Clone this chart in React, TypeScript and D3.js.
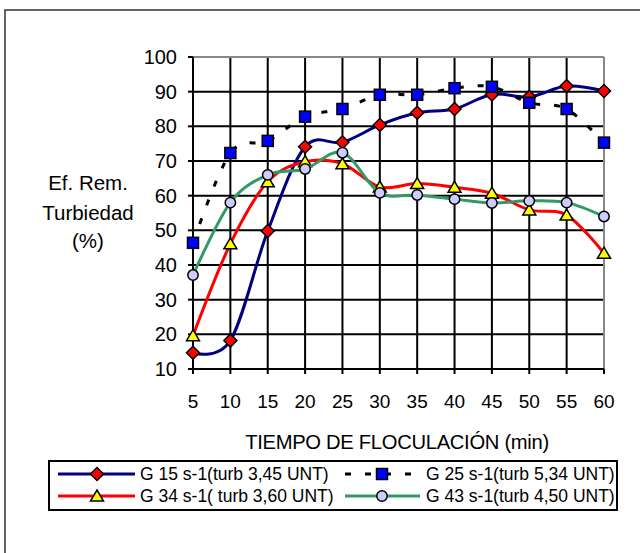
import React from "react";
import * as d3 from "d3";

// Flocculation time (min)
const minutes = [5, 10, 15, 20, 25, 30, 35, 40, 45, 50, 55, 60];

// Turbidity removal efficiency (%) per velocity gradient
const g15 = [14.7, 18.2, 49.8, 74.1, 75.4, 80.4, 83.9, 85.0, 89.2, 88.5, 91.6, 90.2];
const g25 = [46.4, 72.3, 75.8, 82.8, 85.0, 89.1, 89.1, 91.0, 91.4, 86.8, 85.0, 75.3];
const g34 = [19.6, 46.1, 64.0, 69.8, 69.2, 62.5, 63.5, 62.4, 60.7, 55.9, 54.4, 43.4];
const g43 = [37.1, 58.0, 66.0, 67.7, 72.4, 60.8, 60.2, 59.0, 57.9, 58.5, 58.0, 54.0];

const yTicks = [10, 20, 30, 40, 50, 60, 70, 80, 90, 100];

const labels = [
  "G 15 s-1(turb 3,45 UNT)",
  "G 25 s-1(turb 5,34 UNT)",
  "G 34 s-1( turb 3,60 UNT)",
  "G 43 s-1(turb 4,50 UNT)",
];

const FONT = "'Liberation Sans', Arial, sans-serif";

type MarkerKind = "diamond" | "square" | "triangle" | "circle";

interface SeriesDef {
  values: number[];
  label: string;
  line: string;
  dash?: string;
  marker: MarkerKind;
  fill: string;
}

const series: SeriesDef[] = [
  { values: g15, label: labels[0], line: "#000080", marker: "diamond", fill: "#FF0000" },
  { values: g25, label: labels[1], line: "#000000", dash: "6 14", marker: "square", fill: "#0000FF" },
  { values: g34, label: labels[2], line: "#FF0000", marker: "triangle", fill: "#FFFF00" },
  { values: g43, label: labels[3], line: "#339966", marker: "circle", fill: "#CCCCFF" },
];

function Marker({ kind, x, y, fill }: { kind: MarkerKind; x: number; y: number; fill: string }) {
  const common = { fill, stroke: "#000", strokeWidth: 1.5 };
  if (kind === "diamond") {
    const r = 6.5;
    return <path d={`M${x},${y - r}L${x + r},${y}L${x},${y + r}L${x - r},${y}Z`} {...common} />;
  }
  if (kind === "square") {
    const r = 5.5;
    return <rect x={x - r} y={y - r} width={2 * r} height={2 * r} {...common} />;
  }
  if (kind === "triangle") {
    return <path d={`M${x},${y - 6}L${x + 6.5},${y + 5}L${x - 6.5},${y + 5}Z`} {...common} />;
  }
  return <circle cx={x} cy={y} r={5.2} {...common} />;
}

export default function App() {
  const x = d3.scaleLinear().domain([5, 60]).range([193, 604]);
  const y = d3.scaleLinear().domain([10, 100]).range([369, 57]);
  const [x0, x1] = x.range();
  const [yb, yt] = y.range();

  const lineGen = d3
    .line<number>()
    .x((_, i) => x(minutes[i]))
    .y((d) => y(d))
    .curve(d3.curveCardinal.tension(0));

  const legendRows = [
    { y: 474, items: [series[0], series[1]] },
    { y: 496, items: [series[2], series[3]] },
  ];
  const legendCols = [
    { l0: 58, l1: 135, mx: 97, tx: 140 },
    { l0: 345, l1: 420, mx: 382, tx: 426 },
  ];

  return (
    <svg
      width={640}
      height={553}
      style={{ position: "absolute", left: 0, top: 0, background: "#fff" }}
      fontFamily={FONT}
    >
      {/* outer chart frame */}
      <rect x={5} y={10} width={700} height={600} fill="#fff" stroke="#333" strokeWidth={1.5} />

      {/* horizontal gridlines */}
      {yTicks
        .filter((t) => t !== 10 && t !== 100)
        .map((t) => (
          <line key={`h${t}`} x1={x0} x2={x1} y1={y(t)} y2={y(t)} stroke="#000" strokeWidth={2} />
        ))}
      {/* vertical gridlines with tick extensions */}
      {minutes.map((m) => (
        <line key={`v${m}`} x1={x(m)} x2={x(m)} y1={yt} y2={yb + 5} stroke="#000" strokeWidth={2} />
      ))}
      {/* plot border top / right */}
      <line x1={x0} x2={x1} y1={yt} y2={yt} stroke="#888" strokeWidth={2} />
      <line x1={x1} x2={x1} y1={yt} y2={yb} stroke="#888" strokeWidth={2} />
      {/* axes */}
      <line x1={x0} x2={x0} y1={yt} y2={yb} stroke="#000" strokeWidth={2} />
      <line x1={x0} x2={x1} y1={yb} y2={yb} stroke="#000" strokeWidth={2} />
      {yTicks.map((t) => (
        <line key={`yt${t}`} x1={x0 - 5} x2={x0} y1={y(t)} y2={y(t)} stroke="#000" strokeWidth={2} />
      ))}

      {/* y tick labels */}
      {yTicks.map((t) => (
        <text key={`yl${t}`} x={177} y={y(t)} dy="0.35em" textAnchor="end" fontSize={20}>
          {t}
        </text>
      ))}
      {/* x tick labels */}
      {minutes.map((m) => (
        <text key={`xl${m}`} x={x(m)} y={408} textAnchor="middle" fontSize={19}>
          {m}
        </text>
      ))}

      {/* axis titles */}
      <text x={397} y={449} textAnchor="middle" fontSize={20.2} letterSpacing={-0.3}>
        TIEMPO DE FLOCULACIÓN (min)
      </text>
      <text textAnchor="middle" fontSize={20.5}>
        <tspan x={88} y={190}>Ef. Rem.</tspan>
        <tspan x={88} y={220}>Turbiedad</tspan>
        <tspan x={88} y={248}>(%)</tspan>
      </text>

      {/* series: line then markers */}
      {series.map((s, si) => (
        <g key={`s${si}`}>
          <path
            d={lineGen(s.values) ?? ""}
            fill="none"
            stroke={s.line}
            strokeWidth={3}
            strokeDasharray={s.dash}
          />
          {s.values.map((v, i) => (
            <Marker key={i} kind={s.marker} x={x(minutes[i])} y={y(v)} fill={s.fill} />
          ))}
        </g>
      ))}

      {/* legend */}
      <rect x={49} y={461} width={568} height={49} fill="#fff" stroke="#000" strokeWidth={2} />
      {legendRows.map((row, ri) =>
        row.items.map((s, ci) => {
          const c = legendCols[ci];
          return (
            <g key={`lg${ri}${ci}`}>
              <line
                x1={c.l0}
                x2={c.l1}
                y1={row.y}
                y2={row.y}
                stroke={s.line}
                strokeWidth={3}
                strokeDasharray={s.dash}
              />
              <Marker kind={s.marker} x={c.mx} y={row.y} fill={s.fill} />
              <text x={c.tx} y={row.y} dy="0.36em" fontSize={17.5}>
                {s.label}
              </text>
            </g>
          );
        })
      )}
    </svg>
  );
}
